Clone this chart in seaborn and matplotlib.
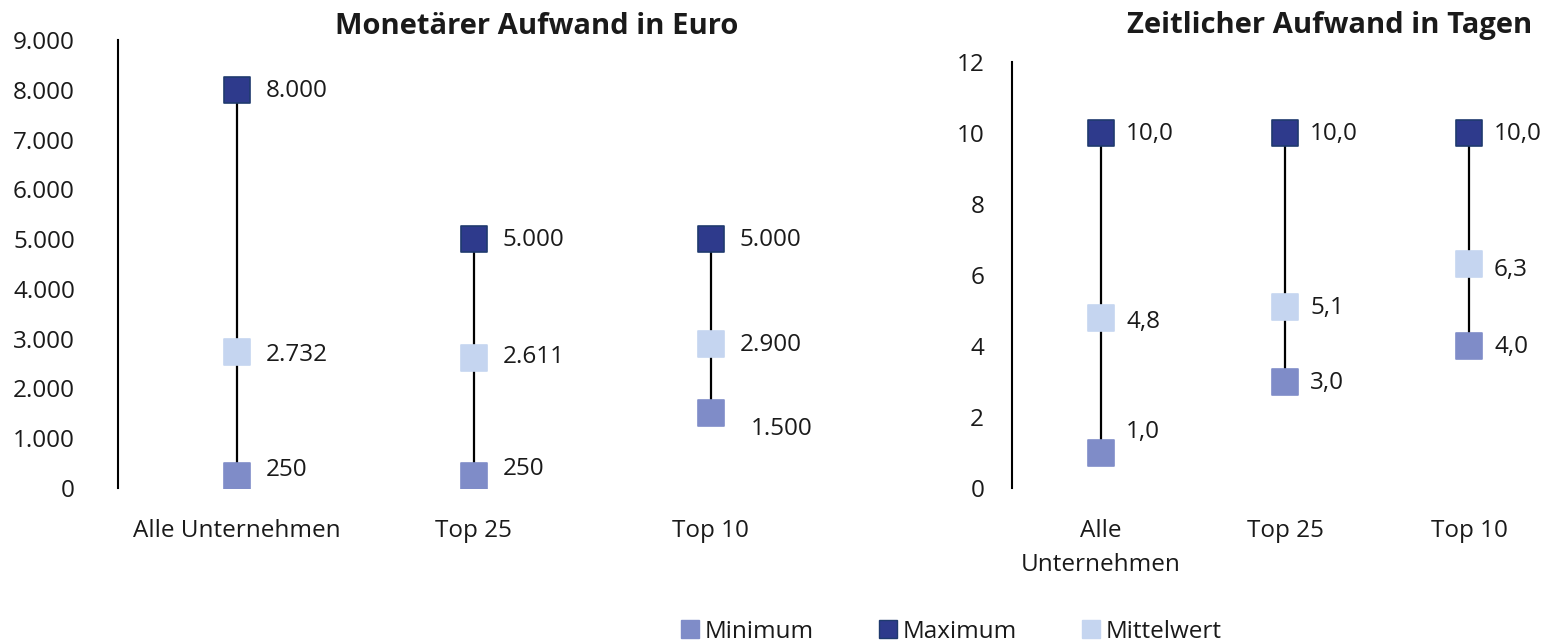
import matplotlib
matplotlib.use("Agg")
import matplotlib.pyplot as plt
from matplotlib.lines import Line2D
import seaborn as sns
import pandas as pd

# data
categories_euro = ["Alle Unternehmen", "Top 25", "Top 10"]
euro_min = [250, 250, 1500]
euro_max = [8000, 5000, 5000]
euro_mean = [2732, 2611, 2900]

categories_days = ["Alle\nUnternehmen", "Top 25", "Top 10"]
days_min = [1.0, 3.0, 4.0]
days_max = [10.0, 10.0, 10.0]
days_mean = [4.8, 5.1, 6.3]

series_names = ["Minimum", "Maximum", "Mittelwert"]
colors = {"Minimum": "#7F8CC8", "Maximum": "#2E3A8C", "Mittelwert": "#C5D5F0"}
edges = {"Minimum": "#7F8CC8", "Maximum": "#1F3A6E", "Mittelwert": "#C5D5F0"}

# label offsets in points (dx, dy), per series then category
euro_offsets = {
    "Minimum": [(21, 4), (21, 5), (29, -11)],
    "Maximum": [(21, -1), (21, -1), (21, -1)],
    "Mittelwert": [(21, -2), (21, 1), (21, -1)],
}
days_offsets = {
    "Minimum": [(18, 15), (18, -1), (18, -1)],
    "Maximum": [(18, -1), (18, -1), (18, -1)],
    "Mittelwert": [(18, -3), (18, -1), (18, -4)],
}

FS = 17.5

sns.set_style("white")
plt.rcParams["font.family"] = ["Open Sans", "DejaVu Sans"]
plt.rcParams["text.color"] = "#1a1a1a"

fig = plt.figure(figsize=(15.46, 6.43), dpi=100)
ax1 = fig.add_axes([118 / 1546, (643 - 488) / 643, (829 - 118) / 1546, (488 - 40) / 643])
ax2 = fig.add_axes([1012 / 1546, (643 - 488) / 643, (1546 - 1012) / 1546, (488 - 62) / 643])


def draw_panel(ax, cats, vmin, vmax, vmean, offsets, fmt):
    df = pd.DataFrame({
        "cat": cats * 3,
        "value": vmin + vmax + vmean,
        "series": [s for s in series_names for _ in cats],
    })
    ax.vlines(range(len(cats)), vmin, vmax, color="black", linewidth=1.6, zorder=1)
    for s in series_names:
        sub = df[df["series"] == s]
        sns.scatterplot(data=sub, x="cat", y="value", ax=ax, marker="s", s=340,
                        color=colors[s], edgecolor=edges[s], linewidth=1.2,
                        zorder=3, legend=False)
        for i, v in enumerate(sub["value"]):
            dx, dy = offsets[s][i]
            ax.annotate(fmt(v), (i, v), xytext=(dx, dy), textcoords="offset points",
                        ha="left", va="center", fontsize=FS)
    ax.set_xlabel("")
    ax.set_ylabel("")
    for side in ["top", "right", "bottom"]:
        ax.spines[side].set_visible(False)
    ax.spines["left"].set_color("black")
    ax.spines["left"].set_linewidth(1.5)
    ax.tick_params(axis="both", length=0, labelsize=FS, colors="#1a1a1a")
    ax.tick_params(axis="x", pad=22)


def de_int(v):
    return f"{v:,.0f}".replace(",", ".")


def de_dec(v):
    return f"{v:.1f}".replace(".", ",")


draw_panel(ax1, categories_euro, euro_min, euro_max, euro_mean, euro_offsets, de_int)
ax1.set_ylim(0, 9000)
ax1.set_xlim(-0.5, 2.5)
ax1.set_yticks(range(0, 9001, 1000))
ax1.set_yticklabels([de_int(v) for v in range(0, 9001, 1000)])
ax1.tick_params(axis="y", pad=31)

draw_panel(ax2, categories_days, days_min, days_max, days_mean, days_offsets, de_dec)
ax2.set_ylim(0, 12)
ax2.set_xlim(-0.484, 2.418)
ax2.set_yticks(range(0, 13, 2))
ax2.set_yticklabels([str(v) for v in range(0, 13, 2)])
ax2.tick_params(axis="y", pad=20)
for lbl in ax2.get_xticklabels():
    lbl.set_linespacing(1.6)

fig.text(537 / 1546, 1 - 26 / 643, "Monetärer Aufwand in Euro", ha="center", va="center",
         fontsize=21, fontweight="bold")
fig.text(1330 / 1546, 1 - 26 / 643, "Zeitlicher Aufwand in Tagen", ha="center", va="center",
         fontsize=21, fontweight="bold")

handles = [Line2D([0], [0], marker="s", linestyle="", markersize=13,
                  markerfacecolor=colors[s], markeredgecolor=edges[s], label=s)
           for s in series_names]
fig.legend(handles=handles, loc="center", bbox_to_anchor=(950 / 1546, 1 - 632 / 643),
           ncol=3, frameon=False, fontsize=FS, handletextpad=0.15, columnspacing=2.6,
           handlelength=0.9)

fig.savefig("out.png", dpi=100)
plt.close(fig)
